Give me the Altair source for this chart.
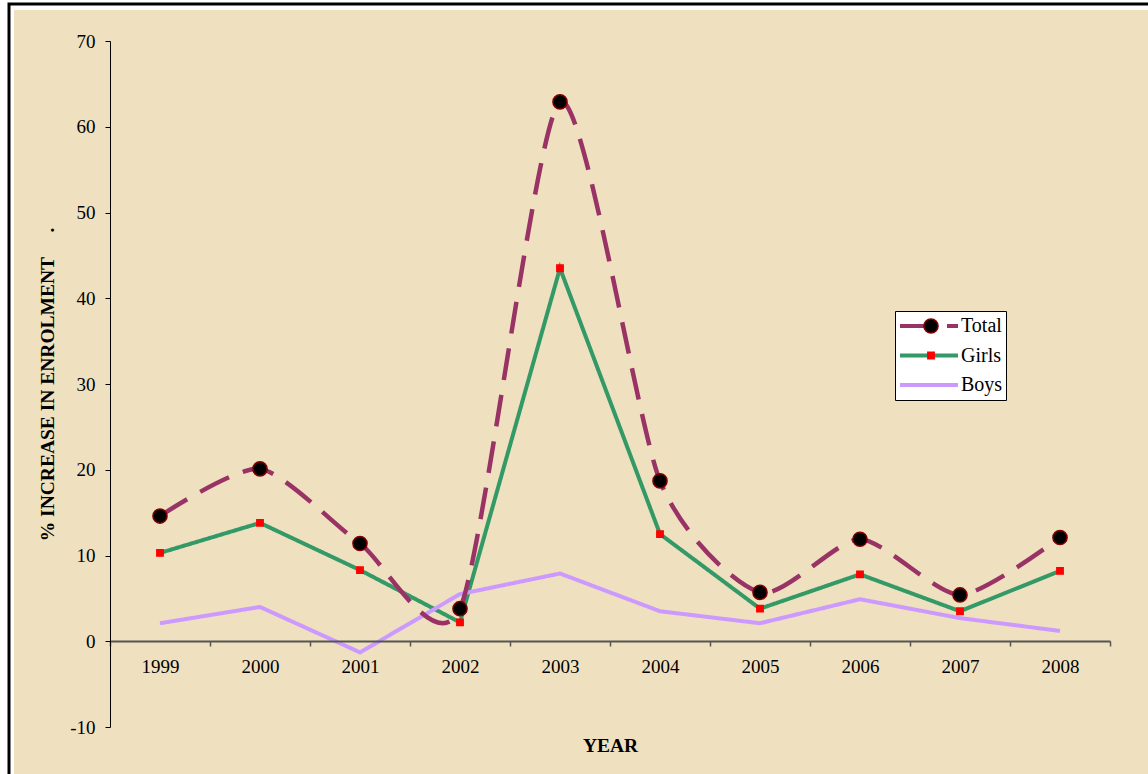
import altair as alt
import pandas as pd

years = ["1999", "2000", "2001", "2002", "2003", "2004", "2005", "2006", "2007", "2008"]
total = [14.6, 20.1, 11.4, 3.8, 62.9, 18.7, 5.7, 11.9, 5.4, 12.1]
girls = [10.3, 13.8, 8.3, 2.2, 43.5, 12.5, 3.8, 7.8, 3.5, 8.2]
boys = [2.1, 4.0, -1.3, 5.5, 7.9, 3.5, 2.1, 4.9, 2.7, 1.2]

series_names = ["Total", "Girls", "Boys"]
line_colors = ["#993366", "#339966", "#cc99ff"]
line_dashes = [[32, 15], [1, 0], [1, 0]]

W, H = 1000, 686
FONT = "Liberation Serif"
PAPER = "#efe1bf"

rows = []
for name, vals in zip(series_names, [total, girls, boys]):
    for yr, v in zip(years, vals):
        rows.append({"year": yr, "series": name, "marker": name, "value": v})
df = pd.DataFrame(rows)

x_enc = alt.X(
    "year:O",
    bandPosition=0.5,
    scale=alt.Scale(type="band", paddingInner=0, paddingOuter=0),
    axis=alt.Axis(
        title="YEAR", titleFont=FONT, titleFontSize=19.5, titleFontWeight="bold",
        titleColor="black", titlePadding=60,
        labelFont=FONT, labelFontSize=19, labelColor="black", labelAngle=0,
        labelPadding=11, tickBand="extent", tickSize=5, tickColor="#555555",
        tickWidth=1.5, domainColor="#555555", domainWidth=2, offset=-86,
        zindex=1, grid=False,
    ),
)
y_enc = alt.Y(
    "value:Q",
    scale=alt.Scale(domain=[-10, 70], nice=False, zero=False),
    axis=alt.Axis(
        title="% INCREASE IN ENROLMENT\u00a0\u00a0\u00a0\u00a0\u00a0.",
        titleFont=FONT, titleFontSize=19.5, titleFontWeight="bold",
        titleColor="black", titlePadding=12,
        values=list(range(-10, 71, 10)), labelExpr="'' + datum.value",
        labelFont=FONT, labelFontSize=19,
        labelColor="black", labelPadding=10, tickSize=5, tickColor="black",
        domainColor="black", domainWidth=1, zindex=1, grid=False,
    ),
)

# legend boxes: line swatches with labels, markers overlaid on top
LEG_X, LEG_Y = 785, 270
line_legend = dict(
    orient="none", legendX=LEG_X, legendY=LEG_Y, title=None,
    fillColor="white", strokeColor="black", padding=3,
    symbolType="stroke", symbolSize=3364, symbolStrokeWidth=4,
    clipHeight=24, rowPadding=5.5, labelOffset=1,
    labelFont=FONT, labelFontSize=20, labelColor="black",
)

frame = alt.Chart(pd.DataFrame({"k": [0]})).mark_rect(
    fill="white", stroke="black", strokeWidth=3
).encode(
    x=alt.value(-101), x2=alt.value(W + 60), y=alt.value(-37), y2=alt.value(H + 60)
)
paper = alt.Chart(pd.DataFrame({"k": [0]})).mark_rect(fill=PAPER).encode(
    x=alt.value(-96), x2=alt.value(W + 60), y=alt.value(-31), y2=alt.value(H + 60)
)

color_enc = alt.Color("series:N", scale=alt.Scale(domain=series_names, range=line_colors),
                      legend=alt.Legend(**line_legend))
dash_enc = alt.StrokeDash("series:N", scale=alt.Scale(domain=series_names, range=line_dashes),
                          legend=alt.Legend(**line_legend))

lines_base = alt.Chart(df)
boys_girls = lines_base.transform_filter(alt.datum.series != "Total").mark_line(
    strokeWidth=4, interpolate="linear"
).encode(x=x_enc, y=y_enc, color=color_enc, strokeDash=dash_enc)
total_line = lines_base.transform_filter(alt.datum.series == "Total").mark_line(
    strokeWidth=4.5, interpolate="cardinal", tension=0.3
).encode(x=x_enc, y=y_enc, color=color_enc, strokeDash=dash_enc)

marker_names = ["Total", "Girls"]
marker_legend = dict(
    orient="none", legendX=LEG_X + 23, legendY=LEG_Y, title=None, padding=3,
    clipHeight=24, rowPadding=5.5, labelExpr="''", labelFontSize=20,
    labelFont=FONT, symbolStrokeWidth=1.5,
)
points = alt.Chart(df).transform_filter(alt.datum.series != "Boys").mark_point(
    filled=True, opacity=1, strokeWidth=1.5
).encode(
    x=x_enc, y=y_enc,
    shape=alt.Shape("marker:N", scale=alt.Scale(domain=marker_names, range=["circle", "square"]),
                    legend=alt.Legend(**marker_legend)),
    fill=alt.Fill("marker:N", scale=alt.Scale(domain=marker_names, range=["black", "#ff0000"]),
                  legend=alt.Legend(**marker_legend)),
    stroke=alt.Stroke("marker:N", scale=alt.Scale(domain=marker_names, range=["#800000", "#ff0000"]),
                      legend=alt.Legend(**marker_legend)),
    size=alt.Size("marker:N", scale=alt.Scale(domain=marker_names, range=[200, 40]),
                  legend=alt.Legend(**marker_legend)),
)

chart = alt.layer(frame, paper, boys_girls, total_line, points).properties(
    width=W, height=H,
    autosize=alt.AutoSizeParams(type="none"),
    padding={"left": 110, "top": 41, "right": 38, "bottom": 47},
    background="white",
).configure_view(stroke=None)

chart.save("out.html", embed_options={"renderer": "svg", "actions": False})
